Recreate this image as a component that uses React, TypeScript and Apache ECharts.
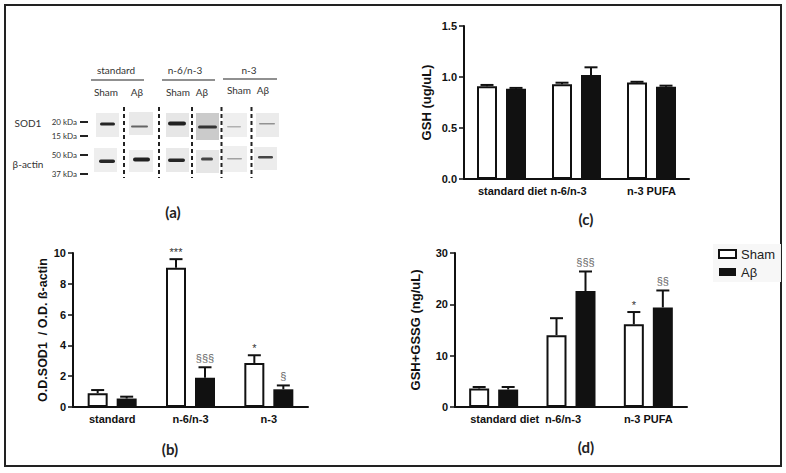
import React, { useEffect, useRef } from "react";
import * as echarts from "echarts";

// ---------- data ----------
const sodCategories = ["standard", "n-6/n-3", "n-3"];
const gshCategories = ["standard diet", "n-6/n-3", "n-3 PUFA"];

const sodSham = [0.9, 9.05, 2.86];
const sodShamSem = [0.2, 0.55, 0.5];
const sodAb = [0.55, 1.9, 1.15];
const sodAbSem = [0.12, 0.68, 0.25];
const sodShamMarks = ["", "***", "*"];
const sodAbMarks = ["", "§§§", "§"];

const gshSham = [0.91, 0.93, 0.945];
const gshShamSem = [0.012, 0.014, 0.008];
const gshAb = [0.885, 1.02, 0.905];
const gshAbSem = [0.008, 0.075, 0.01];
const gshShamMarks = ["", "", ""];
const gshAbMarks = ["", "", ""];

const totShamVals = [3.6, 14.0, 16.1];
const totShamSem = [0.3, 3.3, 2.4];
const totAb = [3.4, 22.6, 19.4];
const totAbSem = [0.5, 3.8, 3.3];
const totShamMarks = ["", "", "*"];
const totAbMarks = ["", "§§§", "§§"];

const seriesNames = ["Sham", "Aβ"];

// ---------- styling ----------
const FONT = "'Liberation Sans', Arial, sans-serif";
const LFONT = "Lato, 'Open Sans', sans-serif";
const INK = "#111";

function errRows(sham: number[], shamSem: number[], ab: number[], abSem: number[]) {
  const rows: number[][] = [];
  sham.forEach((v, i) => rows.push([i, v, v + shamSem[i], 0]));
  ab.forEach((v, i) => rows.push([i, v, v + abSem[i], 1]));
  return rows;
}

function errSeries(g: number, rows: number[][], shamMarks: string[], abMarks: string[]) {
  return {
    type: "custom",
    xAxisIndex: g,
    yAxisIndex: g,
    z: 10,
    silent: true,
    data: rows,
    renderItem: (params: any, api: any) => {
      const cat = api.value(0);
      const val = api.value(1);
      const top = api.value(2);
      const side = api.value(3);
      const base = api.coord([cat, val]);
      const tp = api.coord([cat, top]);
      const x = base[0] + (side ? 14.5 : -14.5);
      const mark = (side ? abMarks : shamMarks)[cat];
      const children: any[] = [
        { type: "line", shape: { x1: x, y1: base[1], x2: x, y2: tp[1] }, style: { stroke: INK, lineWidth: 2 } },
        { type: "line", shape: { x1: x - 6.5, y1: tp[1], x2: x + 6.5, y2: tp[1] }, style: { stroke: INK, lineWidth: 2 } },
      ];
      if (mark) {
        const isStar = mark.indexOf("*") >= 0;
        children.push({
          type: "text",
          x,
          y: tp[1] - (isStar ? 2 : 4),
          style: {
            text: mark,
            align: "center",
            verticalAlign: "bottom",
            fontSize: 11,
            fontFamily: FONT,
            fill: isStar ? "#333" : "#666",
          },
        });
      }
      return { type: "group", children };
    },
  };
}

function barPair(g: number, sham: number[], ab: number[]) {
  return [
    {
      type: "bar",
      name: seriesNames[0],
      xAxisIndex: g,
      yAxisIndex: g,
      data: sham,
      barWidth: 20,
      barGap: "45%",
      itemStyle: { color: "#fff", borderColor: INK, borderWidth: 2 },
    },
    {
      type: "bar",
      name: seriesNames[1],
      xAxisIndex: g,
      yAxisIndex: g,
      data: ab,
      barWidth: 20,
      barGap: "45%",
      itemStyle: { color: INK },
    },
  ];
}

const labelBase = { color: INK, fontWeight: "bold", fontSize: 11, fontFamily: FONT };

function xAxis(g: number, data: string[], shifted: boolean) {
  return {
    type: "category",
    gridIndex: g,
    data,
    axisLine: { lineStyle: { color: INK, width: 2 } },
    axisTick: { alignWithLabel: true, length: 4, lineStyle: { color: INK, width: 1.5 } },
    axisLabel: shifted
      ? {
          ...labelBase,
          margin: 6,
          interval: 0,
          hideOverlap: false,
          formatter: (v: string, i: number) => `{l${i}|${v}}`,
          rich: {
            l0: { ...labelBase, padding: [0, 0, 0, 22] },
            l1: { ...labelBase, padding: [0, 16, 0, 0] },
            l2: { ...labelBase },
          },
        }
      : { ...labelBase, margin: 6, interval: 0 },
    splitLine: { show: false },
  };
}

function yAxis(g: number, max: number, interval: number, name: string, nameGap: number, nameSize: number, dec: number) {
  return {
    type: "value",
    gridIndex: g,
    min: 0,
    max,
    interval,
    name,
    nameLocation: "middle",
    nameGap,
    nameTextStyle: { color: INK, fontWeight: "bold", fontSize: nameSize, fontFamily: FONT },
    axisLine: { show: true, lineStyle: { color: INK, width: 2 } },
    axisTick: { show: true, length: 5, lineStyle: { color: INK, width: 1.5 } },
    axisLabel: { ...labelBase, margin: 7, formatter: (v: number) => v.toFixed(dec) },
    splitLine: { show: false },
  };
}

// ---------- blot picture (panel a) ----------
function blotGraphics() {
  const els: any[] = [];
  const txt = (x: number, y: number, text: string, size: number, align = "center") =>
    els.push({ type: "text", x, y, style: { text, fontSize: size, fontFamily: LFONT, fill: "#333", align, verticalAlign: "middle" } });
  const line = (x1: number, y1: number, x2: number, y2: number, w: number, dash?: number[]) =>
    els.push({ type: "line", shape: { x1, y1, x2, y2 }, style: { stroke: "#222", lineWidth: w, lineDash: dash } });

  txt(116, 70, "standard", 10);
  txt(185, 70, "n-6/n-3", 10);
  txt(249, 70, "n-3", 10);
  line(91, 80, 144, 80, 1.2);
  line(162, 80, 215, 80, 1.2);
  line(223, 79, 277, 79, 1.2);
  txt(106, 92, "Sham", 10);
  txt(137, 92, "Aβ", 10);
  txt(178, 92, "Sham", 10);
  txt(202, 92, "Aβ", 10);
  txt(239, 90, "Sham", 10);
  txt(263, 90, "Aβ", 10);
  txt(28, 123, "SOD1", 10);
  txt(28, 164, "β-actin", 10);
  const kda: [string, number][] = [["20 kDa", 122], ["15 kDa", 136], ["50 kDa", 155], ["37 kDa", 174]];
  kda.forEach(([t, y]) => {
    txt(77, y, t, 8, "right");
    line(80, y, 88, y, 2);
  });

  const boxes: [number, number, number, number, string, number, number, number, number, string][] = [
    [96, 113, 23, 24, "#ececec", 100, 122.5, 15, 3, "#111"],
    [129, 112, 24, 23, "#e9e9e9", 131, 125.5, 17, 2, "#555"],
    [166, 113, 23, 24, "#e6e6e6", 168, 121.5, 18, 4, "#0a0a0a"],
    [196, 113, 23, 27, "#cbcbcb", 198, 125.5, 19, 3, "#222"],
    [223, 113, 24, 24, "#efefef", 227, 126, 14, 1.5, "#aaa"],
    [256, 113, 23, 24, "#ebebeb", 259, 123, 16, 1.5, "#888"],
    [94, 148, 23, 24, "#eeeeee", 99, 159.5, 16, 3.5, "#111"],
    [129, 150, 24, 22, "#eeeeee", 133, 157.5, 17, 4, "#0a0a0a"],
    [166, 148, 23, 24, "#e9e9e9", 168, 158.5, 17, 3.5, "#111"],
    [196, 150, 23, 23, "#e6e6e6", 201, 157.5, 12, 3, "#333"],
    [222, 146, 25, 26, "#efefef", 227, 158, 15, 1.5, "#999"],
    [254, 147, 23, 23, "#ececec", 258, 156, 15, 2.5, "#333"],
  ];
  boxes.forEach(([x, y, w, h, c, bx, by, bw, bh, bc]) => {
    els.push({ type: "rect", shape: { x, y, width: w, height: h }, style: { fill: c } });
    els.push({ type: "rect", shape: { x: bx, y: by, width: bw, height: bh, r: bh / 2 }, style: { fill: bc, opacity: 0.9 } });
  });
  const dashX = [124, 159, 192, 221.5, 251.5];
  dashX.forEach((x) => line(x, 107, x, 178, 2, [4, 3]));
  return els;
}

export default function App() {
  const ref = useRef<HTMLDivElement>(null);
  useEffect(() => {
    if (!ref.current) return;
    const chart = echarts.init(ref.current, undefined, { renderer: "svg" });
    const panel = (x: number, y: number, t: string) => ({
      type: "text",
      x,
      y,
      style: { text: t, fontSize: 15, fontWeight: "bold", fontFamily: LFONT, fill: "#222", align: "center", verticalAlign: "middle" },
    });
    chart.setOption({
      animation: false,
      backgroundColor: "#fff",
      textStyle: { fontFamily: FONT },
      grid: [
        { left: 73, top: 253, width: 235, height: 154 },
        { left: 464, top: 26, width: 225, height: 153 },
        { left: 455, top: 253, width: 232, height: 154 },
      ],
      xAxis: [xAxis(0, sodCategories, false), xAxis(1, gshCategories, true), xAxis(2, gshCategories, true)],
      yAxis: [
        yAxis(0, 10, 2, "O.D.SOD1  / O.D. ß-actin", 23, 12.5, 0),
        yAxis(1, 1.5, 0.5, "GSH (ug/uL)", 31, 13, 1),
        yAxis(2, 30, 10, "GSH+GSSG (ng/uL)", 33, 13, 0),
      ],
      legend: {
        data: [
          { name: "Sham", itemStyle: { color: "#fff", borderColor: INK, borderWidth: 2 } },
          { name: "Aβ", itemStyle: { color: INK, borderWidth: 0 } },
        ],
        orient: "vertical",
        left: 713,
        top: 244,
        icon: "rect",
        itemWidth: 17,
        itemHeight: 8,
        itemGap: 4,
        selectedMode: false,
        backgroundColor: "#f7f7f7",
        padding: [3, 6, 3, 5],
        textStyle: { fontSize: 13, color: "#222", fontFamily: FONT, lineHeight: 14 },
      },
      series: [
        ...barPair(0, sodSham, sodAb),
        errSeries(0, errRows(sodSham, sodShamSem, sodAb, sodAbSem), sodShamMarks, sodAbMarks),
        ...barPair(1, gshSham, gshAb),
        errSeries(1, errRows(gshSham, gshShamSem, gshAb, gshAbSem), gshShamMarks, gshAbMarks),
        ...barPair(2, totShamVals, totAb),
        errSeries(2, errRows(totShamVals, totShamSem, totAb, totAbSem), totShamMarks, totAbMarks),
      ],
      graphic: [
        { type: "rect", shape: { x: 5, y: 5, width: 776, height: 461 }, style: { fill: "none", stroke: "#222", lineWidth: 2 } },
        panel(173, 212, "(a)"),
        panel(170, 449, "(b)"),
        panel(586, 219, "(c)"),
        panel(586, 447, "(d)"),
        ...blotGraphics(),
      ],
    });
    return () => chart.dispose();
  }, []);
  return <div ref={ref} style={{ position: "fixed", left: 0, top: 0, width: 786, height: 473, background: "#fff" }} />;
}
